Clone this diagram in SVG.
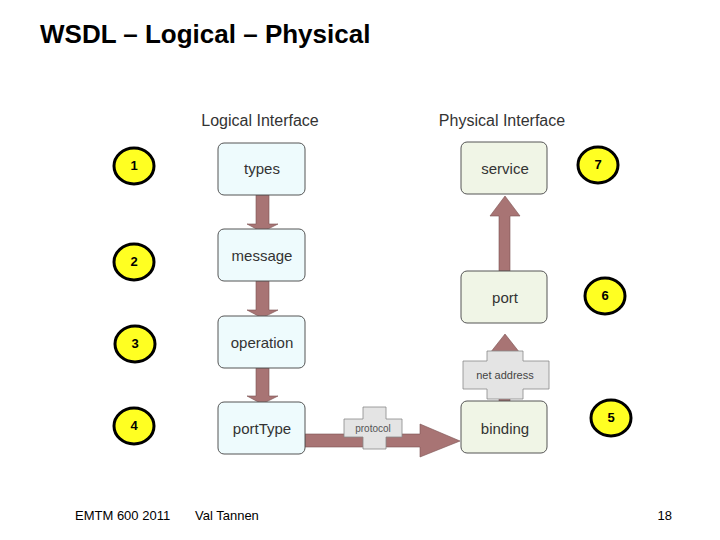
<svg xmlns="http://www.w3.org/2000/svg" width="720" height="540" viewBox="0 0 720 540">
<style>
.t{font-family:"Liberation Sans",Arial,sans-serif}
.lb{fill:#eefbfd;stroke:#555;stroke-width:1}
.pb{fill:#f0f5e6;stroke:#555;stroke-width:1}
.bt{font-size:15px;fill:#333;text-anchor:middle}
.ar{fill:#a87474;stroke:#7a5252;stroke-width:0.6}
.c{fill:#ffff22;stroke:#000;stroke-width:3}
.cn{font-size:13px;font-weight:bold;text-anchor:middle;fill:#000}
.cr{fill:#e4e4e4;stroke:#888;stroke-width:0.8}
</style>
<rect width="720" height="540" fill="#fff"/>
<text class="t" x="40" y="43" font-size="26" font-weight="bold">WSDL – Logical – Physical</text>
<text class="t" x="260" y="126" font-size="16" fill="#333" text-anchor="middle">Logical Interface</text>
<text class="t" x="502" y="126" font-size="16" fill="#333" text-anchor="middle">Physical Interface</text>
<g id="connectors">
<path class="ar" d="M256 195H269V224H278L262 232L247 224H256Z"/>
<path class="ar" d="M256 281H269V310H278L262 318L247 310H256Z"/>
<path class="ar" d="M256 368H269V396H278L262 404L247 396H256Z"/>
<path class="ar" d="M499 271H510V216H520L505 196L490 216H499Z"/>
<path class="ar" d="M499 401H510V353H520L505 334L490 353H499Z"/>
<path class="ar" d="M305 434H420V424L460 441L420 457V447H305Z"/>
<g id="protocol"><path class="cr" d="M363 407H386V419H402V437H386V449H363V437H344V419H363Z"/><text class="t" x="373" y="432" font-size="10" fill="#555" text-anchor="middle">protocol</text></g>
<g id="netaddress"><path class="cr" d="M487 351H523V361H549V389H523V399H487V389H463V361H487Z"/><text class="t" x="505" y="379" font-size="11" fill="#444" text-anchor="middle">net address</text></g>
</g>
<g id="types"><rect class="lb" x="218" y="143" width="87" height="52" rx="6"/><text class="t bt" x="262" y="174">types</text></g>
<g id="message"><rect class="lb" x="218" y="229" width="87" height="52" rx="6"/><text class="t bt" x="262" y="261">message</text></g>
<g id="operation"><rect class="lb" x="218" y="316" width="87" height="52" rx="6"/><text class="t bt" x="262" y="348">operation</text></g>
<g id="portType"><rect class="lb" x="218" y="402" width="87" height="52" rx="6"/><text class="t bt" x="262" y="434">portType</text></g>
<g id="service"><rect class="pb" x="461" y="142" width="86" height="52" rx="6"/><text class="t bt" x="505" y="174">service</text></g>
<g id="port"><rect class="pb" x="461" y="271" width="86" height="52" rx="6"/><text class="t bt" x="505" y="303">port</text></g>
<g id="binding"><rect class="pb" x="461" y="401" width="86" height="52" rx="6"/><text class="t bt" x="505" y="434">binding</text></g>
<g id="c1"><ellipse class="c" cx="134" cy="166" rx="20" ry="18"/><text class="t cn" x="134" y="170">1</text></g>
<g id="c2"><ellipse class="c" cx="134" cy="262" rx="20" ry="18"/><text class="t cn" x="134" y="266">2</text></g>
<g id="c3"><ellipse class="c" cx="135" cy="344" rx="20" ry="18"/><text class="t cn" x="135" y="348">3</text></g>
<g id="c4"><ellipse class="c" cx="134" cy="426" rx="20" ry="18"/><text class="t cn" x="134" y="430">4</text></g>
<g id="c7"><ellipse class="c" cx="598" cy="165" rx="20" ry="18"/><text class="t cn" x="598" y="169">7</text></g>
<g id="c6"><ellipse class="c" cx="605" cy="296" rx="20" ry="18"/><text class="t cn" x="605" y="300">6</text></g>
<g id="c5"><ellipse class="c" cx="611" cy="418" rx="20" ry="18"/><text class="t cn" x="611" y="422">5</text></g>
<text class="t" x="75" y="520" font-size="13">EMTM 600 2011</text>
<text class="t" x="195" y="520" font-size="13">Val Tannen</text>
<text class="t" x="672" y="520" font-size="13" text-anchor="end">18</text>
</svg>
